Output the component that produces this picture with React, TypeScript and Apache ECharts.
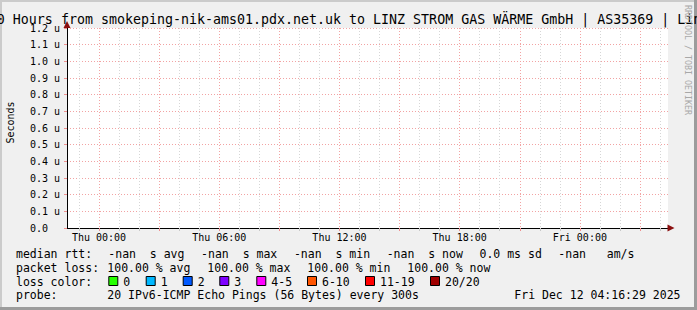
import React, { useEffect, useRef } from 'react';
import * as echarts from 'echarts';

// ---------------- data ----------------
const titleText =
  'Last 30 Hours from smokeping-nik-ams01.pdx.net.uk to LINZ STROM GAS WÄRME GmbH | AS35369 | Linz AG';
const yTickLabels = ['0.0', '0.1 u', '0.2 u', '0.3 u', '0.4 u', '0.5 u', '0.6 u', '0.7 u', '0.8 u', '0.9 u', '1.0 u', '1.1 u', '1.2 u'];
const yMax = 1.2;
const yStep = 0.1;
// hours relative to Thu 00:00
const xStartHour = -1.6;
const xEndHour = 28.4;
const xLabelHours = [0, 6, 12, 18, 24];
const xLabels = ['Thu 00:00', 'Thu 06:00', 'Thu 12:00', 'Thu 18:00', 'Fri 00:00'];
const majorGridHours = [0, 3, 6, 9, 12, 15, 18, 21, 24, 27];
const minorGridHours = [-1, 1, 2, 4, 5, 7, 8, 10, 11, 13, 14, 16, 17, 19, 20, 22, 23, 25, 26, 28];
// all measurements were NaN (100% loss): no points
const medianRtt: [number, number][] = [];

const medianStatValues = ['-nan', '-nan', '-nan', '-nan'];
const medianStatNames = ['avg', 'max', 'min', 'now'];
const sdText = '0.0 ms sd';
const amsText = '-nan   am/s';
const lossStatValues = ['100.00', '100.00', '100.00', '100.00'];
const lossStatNames = ['avg', 'max', 'min', 'now'];
const lossLabels = ['0', '1', '2', '3', '4-5', '6-10', '11-19', '20/20'];
const lossColors = ['#26ff00', '#00b8ff', '#0059ff', '#7e00ff', '#ff00ff', '#ff5500', '#ff0000', '#a10000'];
const probeText = '20 IPv6-ICMP Echo Pings (56 Bytes) every 300s';
const dateText = 'Fri Dec 12 04:16:29 2025';

// ---------------- layout ----------------
const W = 697;
const H = 310;
const MONO = '"DejaVu Sans Mono", monospace';
const LEG = 11.5; // legend font size

function txt(x: number, y: number, text: string, opts: any = {}) {
  const size = opts.size || LEG;
  return {
    type: 'text',
    x,
    y,
    rotation: opts.rotation || 0,
    silent: true,
    z: 10,
    style: {
      text,
      font: `${size}px ${MONO}`,
      fontFamily: MONO,
      fontSize: size,
      fill: opts.fill || '#000',
      align: opts.align || 'left',
      textAlign: opts.align || 'left',
      verticalAlign: 'middle',
      textVerticalAlign: 'middle',
    },
  };
}

export default function App() {
  const ref = useRef<HTMLDivElement>(null);

  useEffect(() => {
    if (!ref.current) return;
    const chart = echarts.init(ref.current, undefined, { renderer: 'svg', width: W, height: H });

    const gridLine = '#f2a3a3';
    const minorLine = '#d6d6d6';

    const graphics: any[] = [];
    // frame shading
    graphics.push({ type: 'rect', shape: { x: 0, y: 0, width: W, height: 2 }, style: { fill: '#cbcbcb' }, silent: true });
    graphics.push({ type: 'rect', shape: { x: 0, y: 0, width: 2, height: H }, style: { fill: '#cbcbcb' }, silent: true });
    graphics.push({ type: 'rect', shape: { x: W - 3, y: 0, width: 3, height: H }, style: { fill: '#9c9c9c' }, silent: true });
    graphics.push({ type: 'rect', shape: { x: 0, y: H - 3, width: W, height: 3 }, style: { fill: '#9c9c9c' }, silent: true });

    // title
    graphics.push(txt(-51.2, 19.4, titleText, { size: 13.3 }));
    // watermark
    graphics.push(txt(687.5, 60, 'RRDTOOL / TOBI OETIKER', { size: 8.3, fill: '#a8a8a8', align: 'center', rotation: -Math.PI / 2 }));
    // y axis title
    graphics.push(txt(10, 122.5, 'Seconds', { size: 10, align: 'center', rotation: Math.PI / 2 }));

    // legend line 1
    const y1 = 253.8;
    graphics.push(txt(16, y1, 'median rtt:'));
    medianStatValues.forEach((v, i) => {
      graphics.push(txt(108.3 + i * 92.8, y1, `${v}  s ${medianStatNames[i]}`));
    });
    graphics.push(txt(479.5, y1, sdText));
    graphics.push(txt(558.3, y1, amsText));

    // legend line 2
    const y2 = 267.8;
    graphics.push(txt(16, y2, 'packet loss:'));
    lossStatValues.forEach((v, i) => {
      graphics.push(txt(107.3 + i * 100, y2, `${v} % ${lossStatNames[i]}`));
    });

    // legend line 3
    const y3 = 281.7;
    graphics.push(txt(16, y3, 'loss color:'));
    const boxX = [108.3, 145.7, 182.7, 219.3, 256.3, 307, 365, 430];
    lossLabels.forEach((l, i) => {
      graphics.push({
        type: 'rect',
        silent: true,
        z: 10,
        shape: { x: boxX[i] + 0.5, y: 276.5, width: 9, height: 9 },
        style: { fill: lossColors[i], stroke: '#000', lineWidth: 1 },
      });
      graphics.push(txt(boxX[i] + 15, y3, l));
    });

    // legend line 4
    const y4 = 295.2;
    graphics.push(txt(16, y4, 'probe:'));
    graphics.push(txt(107.3, y4, probeText));
    graphics.push(txt(680.5, y4, dateText, { align: 'right' }));

    const option: any = {
      animation: false,
      backgroundColor: '#f0f0f0',
      textStyle: { fontFamily: MONO },
      grid: {
        left: 67,
        top: 28,
        right: W - 668,
        bottom: H - 228,
        show: true,
        backgroundColor: '#ffffff',
        borderWidth: 0,
      },
      xAxis: [
        {
          type: 'value',
          position: 'bottom',
          min: xStartHour,
          max: xEndHour,
          axisLine: {
            show: true,
            onZero: false,
            symbol: ['none', 'triangle'],
            symbolSize: [7, 7],
            symbolOffset: [0, 3],
            lineStyle: { color: '#8b1010', width: 0 },
          },
          axisTick: { show: true, customValues: minorGridHours, length: 3, lineStyle: { color: '#c8c8c8' } },
          axisLabel: { show: false },
          splitLine: { show: true, lineStyle: { color: minorLine, type: [1, 2], width: 1 } },
        },
        {
          type: 'value',
          position: 'bottom',
          min: xStartHour,
          max: xEndHour,
          axisLine: { show: true, onZero: false, lineStyle: { color: '#000000', width: 1 } },
          axisTick: { show: true, customValues: majorGridHours, length: 3, lineStyle: { color: '#ee8f8f' } },
          axisLabel: {
            show: true,
            customValues: xLabelHours,
            formatter: (v: number) => xLabels[xLabelHours.indexOf(Math.round(v))] ?? '',
            fontFamily: MONO,
            fontSize: 10,
            color: '#000',
            margin: 4,
          },
          splitLine: { show: true, lineStyle: { color: gridLine, type: [1, 2], width: 1 } },
        },
      ],
      yAxis: [
        {
          type: 'value',
          position: 'left',
          min: 0,
          max: yMax,
          interval: yStep,
          axisLine: { show: true, onZero: false, lineStyle: { color: '#000000', width: 1 } },
          axisTick: { show: true, length: 3, lineStyle: { color: '#ee8f8f' } },
          axisLabel: {
            formatter: (v: number) => yTickLabels[Math.round(v / yStep)] ?? '',
            align: 'left',
            margin: 37,
            fontFamily: MONO,
            fontSize: 10,
            color: '#000',
          },
          splitLine: { show: true, showMinLine: false, lineStyle: { color: gridLine, type: [1, 2], width: 1 } },
        },
        {
          type: 'value',
          position: 'left',
          min: 0,
          max: yMax,
          interval: yStep,
          axisLine: {
            show: true,
            onZero: false,
            symbol: ['none', 'triangle'],
            symbolSize: [7, 7],
            symbolOffset: [0, 3.5],
            lineStyle: { color: '#8b1010', width: 0 },
          },
          axisTick: { show: false },
          axisLabel: { show: false },
          splitLine: { show: false },
        },
      ],
      series: [
        {
          name: 'median rtt',
          type: 'line',
          xAxisIndex: 1,
          yAxisIndex: 0,
          data: medianRtt,
          showSymbol: false,
          lineStyle: { color: '#00ff00' },
        },
      ],
      graphic: graphics,
    };

    chart.setOption(option);
    return () => chart.dispose();
  }, []);

  return (
    <div
      ref={ref}
      style={{ position: 'fixed', left: 0, top: 0, width: W, height: H }}
    />
  );
}
